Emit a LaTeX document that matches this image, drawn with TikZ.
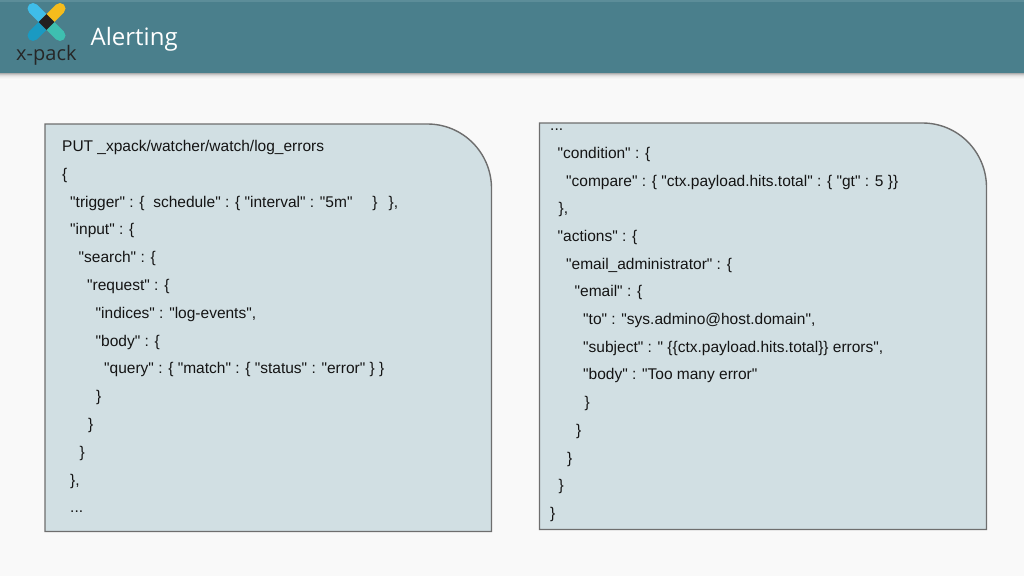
\documentclass[tikz,border=0pt]{standalone}
\usepackage{fontspec}
\setmainfont{Liberation Sans}[Ligatures=TeXOff]
\newfontfamily\titlefont{Open Sans}
\usetikzlibrary{calc}
\definecolor{bgcol}{HTML}{F9F9F9}
\definecolor{headcol}{HTML}{4A7F8C}
\definecolor{headtop}{HTML}{5C8D99}
\definecolor{boxfill}{HTML}{D1DFE3}
\definecolor{boxline}{HTML}{6E6E6E}
\definecolor{codecol}{HTML}{141414}
\definecolor{lblue}{HTML}{3FBDE9}
\definecolor{dblue}{HTML}{1A9AC2}
\definecolor{lyellow}{HTML}{F5BC1C}
\definecolor{lteal}{HTML}{3EBFB0}
\definecolor{lblack}{HTML}{231F20}
\definecolor{xpackcol}{HTML}{262626}
\tikzset{
  codeline/.style={anchor=base west, inner sep=0pt, font=\fontsize{15.5}{18}\selectfont, text=codecol},
  codebox/.style={draw=boxline, line width=1.4pt, fill=boxfill},
  logoarm/.style={line width=11pt, line cap=butt},
}
\begin{document}
\begin{tikzpicture}[x=1pt,y=-1pt]
\useasboundingbox (0,0) rectangle (1024,576);
\fill[bgcol] (0,0) rectangle (1024,576);
% header
\fill[headcol] (0,0) rectangle (1024,72.5);
\fill[headtop] (0,0) rectangle (1024,1.5);
\fill[black!32] (0,72.5) rectangle (1024,73.5);
\fill[black!22] (0,73.5) rectangle (1024,74.5);
\fill[black!14] (0,74.5) rectangle (1024,75.5);
\fill[black!9] (0,75.5) rectangle (1024,76.5);
\fill[black!6] (0,76.5) rectangle (1024,77.5);
\fill[black!4] (0,77.5) rectangle (1024,79);
% logo
\coordinate (lc) at (46.5,22);
\coordinate (ltl) at (33,8.5);
\coordinate (ltr) at (60,8.5);
\coordinate (lbl) at (33,35.5);
\coordinate (lbr) at (60,35.5);
\draw[logoarm, lblue] (lc) -- (ltl); \fill[lblue] (ltl) circle[radius=5.5pt];
\draw[logoarm, lyellow] (lc) -- (ltr); \fill[lyellow] (ltr) circle[radius=5.5pt];
\draw[logoarm, dblue] (lc) -- (lbl); \fill[dblue] (lbl) circle[radius=5.5pt];
\draw[logoarm, lteal] (lc) -- (lbr); \fill[lteal] (lbr) circle[radius=5.5pt];
\fill[lblack] (46.5,14.2) -- (54.3,22) -- (46.5,29.8) -- (38.7,22) -- cycle;
\node[anchor=base west, inner sep=0pt, text=xpackcol, font=\titlefont\fontsize{20}{24}\selectfont] (xpack) at (16,60) {x-pack};
\node[anchor=base west, inner sep=0pt, text=white, font=\titlefont\fontsize{24}{28}\selectfont] (title) at (90.5,45) {Alerting};
% left box
\draw[codebox] (45,531.5) -- (45,124) -- (427.5,124) .. controls (462.8,124) and (491.5,152.7) .. (491.5,188.5) -- (491.5,531.5) -- cycle;
% right box
\draw[codebox] (539.5,529.5) -- (539.5,123) -- (922.5,123) .. controls (957.8,123) and (986.5,151.7) .. (986.5,187.5) -- (986.5,529.5) -- cycle;
% left code
\node[codeline] (a0) at (62,151.5) {PUT \_xpack/watcher/watch/log\_errors};
\node[codeline] (a1) at (62,179.3) {\{};
\node[codeline] (a2) at (70,207.1) {"trigger" : \{\ \ schedule" : \{ "interval" : "5m"\hspace{20pt}\}\hspace{11pt}\},};
\node[codeline] (a3) at (70,234.9) {"input" : \{};
\node[codeline] (a4) at (78.5,262.7) {"search" : \{};
\node[codeline] (a5) at (87,290.5) {"request" : \{};
\node[codeline] (a6) at (95.5,318.3) {"indices" : "log-events",};
\node[codeline] (a7) at (95.5,346.1) {"body" : \{};
\node[codeline] (a8) at (104,373.9) {"query" : \{ "match" : \{ "status" : "error" \} \}};
\node[codeline] (a9) at (96,401.7) {\}};
\node[codeline] (a10) at (88,429.5) {\}};
\node[codeline] (a11) at (79.5,457.3) {\}};
\node[codeline] (a12) at (70,485.1) {\},};
\node[codeline] (a13) at (70,512.9) {...};
% right code
\node[codeline] (b0) at (550,130.6) {...};
\node[codeline] (b1) at (557.5,158.3) {"condition" : \{};
\node[codeline] (b2) at (566,186) {"compare" : \{ "ctx.payload.hits.total" : \{ "gt" : 5 \}\}};
\node[codeline] (b3) at (558.5,213.7) {\},};
\node[codeline] (b4) at (557.5,241.4) {"actions" : \{};
\node[codeline] (b5) at (566,269.1) {"email\_administrator" : \{};
\node[codeline] (b6) at (574.5,296.8) {"email" : \{};
\node[codeline] (b7) at (583,324.5) {"to" : "sys.admino@host.domain",};
\node[codeline] (b8) at (583,352.2) {"subject" : " \{\{ctx.payload.hits.total\}\} errors",};
\node[codeline] (b9) at (583,379.9) {"body" : "Too many error"};
\node[codeline] (b10) at (584.5,407.6) {\}};
\node[codeline] (b11) at (576,435.3) {\}};
\node[codeline] (b12) at (567,463) {\}};
\node[codeline] (b13) at (558.5,490.7) {\}};
\node[codeline] (b14) at (550,518.4) {\}};
\end{tikzpicture}
\end{document}
